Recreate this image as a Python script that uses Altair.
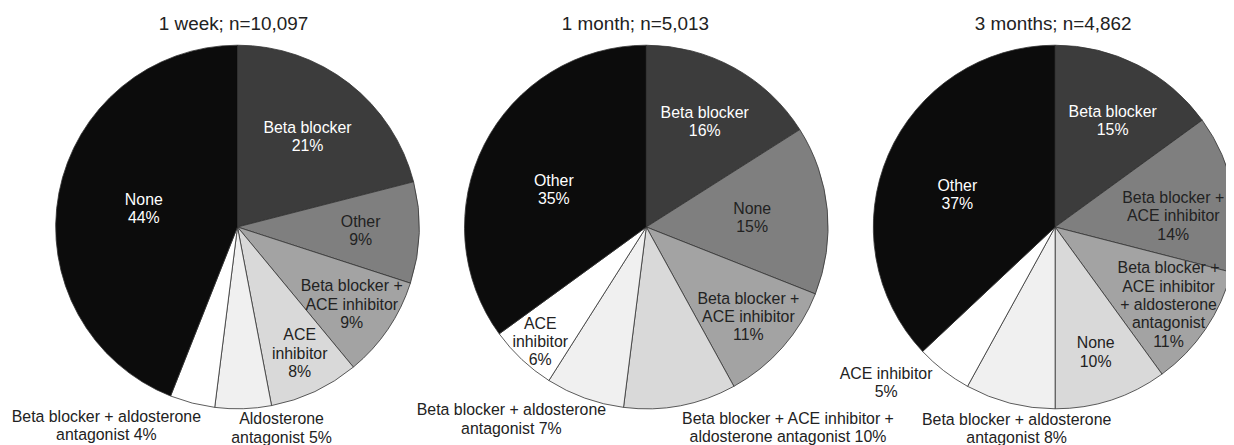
import math
import altair as alt
import pandas as pd

# ---------------- data ----------------
periods = ["1 week", "1 month", "3 months"]
titles = ["1 week; n=10,097", "1 month; n=5,013", "3 months; n=4,862"]

cats_1w = ["Beta blocker", "Other", "Beta blocker + ACE inhibitor", "ACE inhibitor",
           "Aldosterone antagonist", "Beta blocker + aldosterone antagonist", "None"]
vals_1w = [21, 9, 9, 8, 5, 4, 44]
labs_1w = ["Beta blocker\n{}%", "Other\n{}%", "Beta blocker +\nACE inhibitor\n{}%",
           "ACE\ninhibitor\n{}%", "Aldosterone\nantagonist {}%",
           "Beta blocker + aldosterone\nantagonist {}%", "None\n{}%"]

cats_1m = ["Beta blocker", "None", "Beta blocker + ACE inhibitor",
           "Beta blocker + ACE inhibitor + aldosterone antagonist",
           "Beta blocker + aldosterone antagonist", "ACE inhibitor", "Other"]
vals_1m = [16, 15, 11, 10, 7, 6, 35]
labs_1m = ["Beta blocker\n{}%", "None\n{}%", "Beta blocker +\nACE inhibitor\n{}%",
           "Beta blocker + ACE inhibitor +\naldosterone antagonist {}%",
           "Beta blocker + aldosterone\nantagonist {}%", "ACE\ninhibitor\n{}%", "Other\n{}%"]

cats_3m = ["Beta blocker", "Beta blocker + ACE inhibitor",
           "Beta blocker + ACE inhibitor + aldosterone antagonist", "None",
           "Beta blocker + aldosterone antagonist", "ACE inhibitor", "Other"]
vals_3m = [15, 14, 11, 10, 8, 5, 37]
labs_3m = ["Beta blocker\n{}%", "Beta blocker +\nACE inhibitor\n{}%",
           "Beta blocker +\nACE inhibitor\n+ aldosterone\nantagonist\n{}%", "None\n{}%",
           "Beta blocker + aldosterone\nantagonist {}%", "ACE inhibitor\n{}%", "Other\n{}%"]

# ---------------- styling / layout ----------------
shades = ["#3c3c3c", "#7f7f7f", "#a3a3a3", "#d9d9d9", "#f0f0f0", "#ffffff", "#0c0c0c"]
FONT = "Liberation Sans"
R = 183
LH = 18.5
# label placement per slice: (radius, dx, dy) of the centre of the label block
place = {
    "1 week": [(115, 0, 0), (124, 0, 0), (139, 0, 0), (140, 3, 1), (203, 38, 0), (205, -81, 2), (96, 0, 0)],
    "1 month": [(122, 0, 1), (107, 0, 1), (137, 0, 0), (206, 104, 0), (206, -66, 0), (156, 0, 2), (100, -4, 8)],
    "3 months": [(121, 3, 1), (121, 0, 12), (138, 0, 1), (132, 0, 1), (208, 13, 2), (196, -50, 2), (104, -3, 9)],
}
title_dx = [-4, -11, -2]

rows = []
for p, cats, vals, labs in zip(periods, [cats_1w, cats_1m, cats_3m],
                               [vals_1w, vals_1m, vals_3m], [labs_1w, labs_1m, labs_3m]):
    total = float(sum(vals))
    cum = 0.0
    for k, (c, v, l) in enumerate(zip(cats, vals, labs)):
        t0 = 2 * math.pi * cum / total
        cum += v
        t1 = 2 * math.pi * cum / total
        rows.append(dict(period=p, k=k, category=c, value=v, label=l.format(v),
                         t0=t0, t1=t1, mid=(t0 + t1) / 2))
df = pd.DataFrame(rows)
tdf = pd.DataFrame(dict(period=periods, title=titles, zero=[0.0] * 3))

xenc = alt.X("period:N", scale=alt.Scale(type="point", domain=periods, range=[231, 1054], padding=0),
             axis=None)

arcs = alt.Chart(df).mark_arc(outerRadius=R, stroke="#333333", strokeWidth=0.8).encode(
    x=xenc,
    theta=alt.Theta("t0:Q", scale=None),
    theta2=alt.Theta2("t1:Q"),
    color=alt.Color("k:O", scale=alt.Scale(domain=list(range(7)), range=shades), legend=None),
)

layers = [arcs]
for i, (p, labs) in enumerate(zip(periods, [labs_1w, labs_1m, labs_3m])):
    layers.append(
        alt.Chart(tdf).transform_filter(alt.datum.period == p).mark_text(
            radius=204, dx=title_dx[i], font=FONT, fontSize=19, color="#222222",
            align="center", baseline="middle"
        ).encode(x=xenc, theta=alt.Theta("zero:Q", scale=None), text="title:N")
    )
    for k, (r, dx, dy) in enumerate(place[p]):
        nlines = labs[k].count("\n") + 1
        col = "#ffffff" if k in (0, 6) else "#222222"
        layers.append(
            alt.Chart(df).transform_filter((alt.datum.period == p) & (alt.datum.k == k)).mark_text(
                radius=r, dx=dx, dy=dy - (nlines - 1) * LH / 2, font=FONT, fontSize=16, lineHeight=LH,
                lineBreak="\n", color=col, align="center", baseline="middle"
            ).encode(x=xenc, theta=alt.Theta("mid:Q", scale=None), text="label:N")
        )

chart = alt.layer(*layers).properties(
    width=1226, height=438, padding=0,
    autosize=alt.AutoSizeParams(type="none"),
).configure_view(stroke=None)

chart.save("out.html", embed_options={"renderer": "svg", "actions": False})
